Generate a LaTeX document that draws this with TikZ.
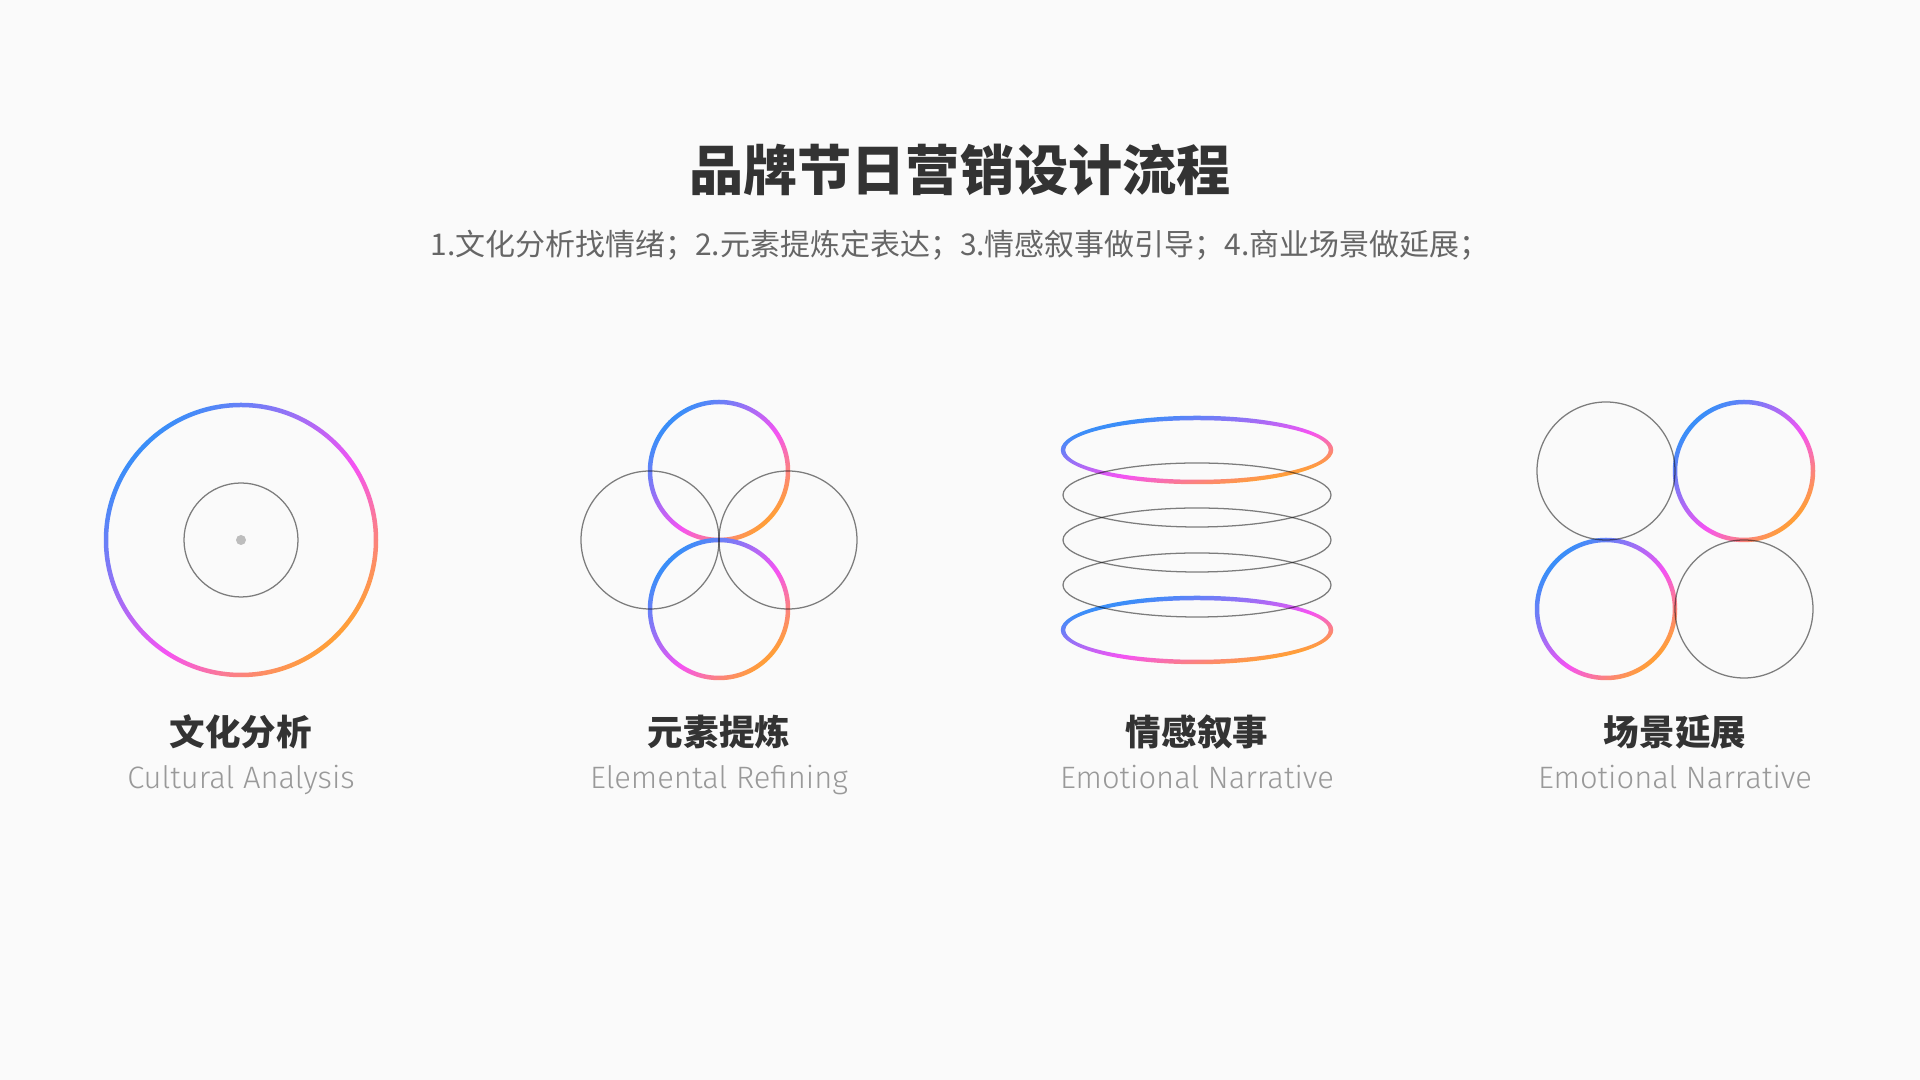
\documentclass[tikz,border=0pt]{standalone}
\usepackage{fontspec}
\setmainfont{Noto Sans CJK SC}
\newfontfamily\enfont{Fira Sans Light}
\definecolor{bgcol}{HTML}{FAFAFA}
\definecolor{gblue}{HTML}{3A8EF8}
\definecolor{gmag}{HTML}{F553F3}
\definecolor{gorange}{HTML}{FF9F38}
\definecolor{titlecol}{HTML}{333333}
\definecolor{subcol}{HTML}{666666}
\definecolor{encol}{HTML}{999999}
\definecolor{dotcol}{HTML}{BDBDBD}
% gradient for a square of half side 1.5: blue at -1, magenta at 0.2, orange at +1
\pgfdeclarehorizontalshading{fillgrad}{100bp}{color(0bp)=(gblue); color(33.33bp)=(gblue); color(53.33bp)=(gmag); color(66.67bp)=(gorange); color(100bp)=(gorange)}
\newcommand\gradring[3]{%
  \begin{scope}[even odd rule]
    \clip (#1,#2) circle[radius=#3+2.25] (#1,#2) circle[radius=#3-2.25];
    \shade[shading=fillgrad, transform canvas={shift={(#1,#2)}, scale=#3, rotate=-45}] (-1.5,-1.5) rectangle (1.5,1.5);
  \end{scope}}
\newcommand\gradell[4]{%
  \begin{scope}[even odd rule]
    \clip (#1,#2) ellipse[x radius=#3+2.25, y radius=#4+2.25] (#1,#2) ellipse[x radius=#3-2.25, y radius=#4-2.25];
    \shade[shading=fillgrad, transform canvas={shift={(#1,#2)}, xscale=#3, yscale=#4, rotate=-45}] (-1.5,-1.5) rectangle (1.5,1.5);
  \end{scope}}
\tikzset{
  grayline/.style={draw=black, draw opacity=0.5, line width=0.36pt},
  titletext/.style={font=\fontsize{15.4pt}{18pt}\selectfont\bfseries, text=titlecol, inner sep=0pt},
  subtext/.style={font=\fontsize{8.52pt}{10pt}\selectfont, text=subcol, inner sep=0pt},
  labtext/.style={font=\fontsize{10.1pt}{12pt}\selectfont\bfseries, text=titlecol, inner sep=0pt},
  entext/.style={font=\enfont\fontsize{8.8pt}{10pt}\selectfont, text=encol, inner sep=0pt, anchor=base},
}
\begin{document}
\begin{tikzpicture}[x=0.01cm, y=-0.01cm]
\useasboundingbox[fill=bgcol] (0,0) rectangle (1920,1080);

% title
\node[titletext] (title) at (960,170) {品牌节日营销设计流程};
\node[subtext] (subtitle) at (960,245) {1.文化分析找情绪；2.元素提炼定表达；3.情感叙事做引导；4.商业场景做延展；};

% icon 1
\gradring{241}{540}{135}
\draw[grayline] (241,540) circle[radius=57];
\fill[dotcol] (241,540) circle[radius=5];

% icon 2
\gradring{719}{471}{69}
\gradring{719}{609}{69}
\draw[grayline] (650,540) circle[radius=69];
\draw[grayline] (788,540) circle[radius=69];

% icon 3
\gradell{1197}{450}{134}{32}
\gradell{1197}{630}{134}{32}
\draw[grayline] (1197,495) ellipse[x radius=134, y radius=32];
\draw[grayline] (1197,540) ellipse[x radius=134, y radius=32];
\draw[grayline] (1197,585) ellipse[x radius=134, y radius=32];

% icon 4
\gradring{1744}{471}{69}
\gradring{1606}{609}{69}
\draw[grayline] (1606,471) circle[radius=69];
\draw[grayline] (1744,609) circle[radius=69];

% labels
\node[labtext] (lab1) at (241,732) {文化分析};
\node[labtext] (lab2) at (719,732) {元素提炼};
\node[labtext] (lab3) at (1197,732) {情感叙事};
\node[labtext] (lab4) at (1675,732) {场景延展};
\node[entext] (en1) at (241,789) {Cultural Analysis};
\node[entext] (en2) at (719,789) {Elemental Refining};
\node[entext] (en3) at (1197,789) {Emotional Narrative};
\node[entext] (en4) at (1675,789) {Emotional Narrative};
\end{tikzpicture}
\end{document}
